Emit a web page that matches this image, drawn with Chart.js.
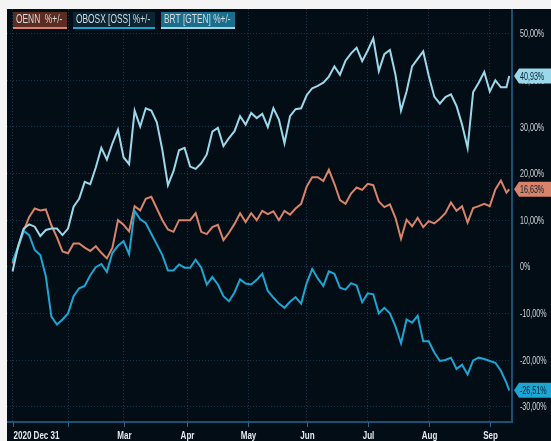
<!DOCTYPE html>
<html>
<head>
<meta charset="utf-8">
<script src="https://cdn.jsdelivr.net/npm/chart.js@4.4.0/dist/chart.umd.min.js"></script>
<style>
  html, body { margin: 0; padding: 0; background: #f4f4f4; }
  #panel { position: absolute; left: 7px; top: 9px; width: 544px; height: 432px; background: #020d15; }
</style>
</head>
<body>
<div id="panel"><canvas id="chart" width="544" height="432"></canvas></div>
<script>
// x axis counts weekdays since 2020-12-31; the series are sampled every second weekday
const sampleDays = [];
for (let d = 2; d <= 180; d += 2) sampleDays.push(d);
sampleDays.push(181);

const seriesNames = ['OENN  %+/-', 'OBOSX [OSS] %+/-', 'BRT [GTEN] %+/-'];

const oenn = [
  0.7, 4.1, 7.7, 10.7, 12.5, 12.1, 12.3, 8.9, 6.3, 3.3,
  2.9, 5.0, 5.0, 4.1, 3.4, 4.4, 3.0, 1.8, 4.1, 10.0,
  9.0, 7.6, 13.0, 12.1, 14.6, 15.0, 12.5, 10.0, 8.0, 7.5,
  10.0, 10.0, 10.0, 11.5, 7.5, 7.0, 8.5, 9.0, 5.7, 7.3,
  9.2, 11.5, 9.6, 11.5, 10.0, 12.0, 11.3, 11.9, 10.0, 12.0,
  11.2, 12.5, 13.5, 17.2, 19.2, 19.2, 18.4, 20.8, 17.8, 14.3,
  13.5, 15.7, 17.0, 16.5, 17.8, 17.5, 14.0, 12.8, 13.4, 10.5,
  6.0, 10.1, 8.7, 10.5, 8.5, 9.8, 9.3, 10.3, 11.5, 13.8,
  12.0, 13.0, 9.5, 12.6, 13.0, 13.5, 13.0, 16.6, 18.5, 15.9,
  16.63
];

const obosx = [
  1.1, 4.3, 7.7, 6.8, 3.6, 2.5, -2.1, -10.7, -12.4, -11.3,
  -10.0, -6.3, -4.6, -4.1, -1.8, -0.1, 0.6, -1.1, 3.0, 4.5,
  5.5, 2.7, 12.0, 10.2, 9.4, 7.1, 4.8, 2.5, -0.8, -0.8,
  0.5, -0.2, -0.2, 1.5, -0.2, -3.8, -2.2, -3.8, -6.3, -7.4,
  -5.5, -2.7, -3.6, -3.8, -2.8, -1.5, -5.2, -6.6, -7.9, -8.8,
  -7.5, -6.5, -7.9, -3.5, -0.5, -2.5, -4.1, -1.0, -1.5, -4.5,
  -4.9, -3.5, -4.0, -7.6, -5.7, -5.9, -10.0, -8.8, -10.0, -12.8,
  -16.4, -11.3, -12.0, -10.5, -16.0, -16.0, -18.4, -20.2, -20.0, -19.5,
  -21.9, -21.0, -23.1, -20.1, -19.5, -19.8, -20.2, -20.6, -22.3, -24.9,
  -26.51
];

const brt = [
  -1.0, 4.4, 8.2, 9.1, 8.6, 6.6, 7.9, 8.2, 8.2, 6.8,
  8.2, 12.9, 14.6, 18.2, 17.7, 21.3, 25.5, 23.0, 26.5, 29.4,
  23.5, 22.0, 33.5, 30.1, 34.0, 33.5, 31.0, 25.0, 17.5, 20.5,
  25.0, 25.5, 21.5, 21.0, 22.2, 24.1, 29.0, 29.8, 25.9, 27.6,
  29.1, 32.3, 30.5, 33.0, 31.9, 32.8, 30.0, 34.0, 31.6, 26.5,
  32.3, 33.8, 34.0, 36.8, 38.3, 38.8, 39.5, 40.8, 43.0, 41.2,
  44.2, 45.8, 47.0, 44.1, 46.4, 49.0, 42.0, 45.6, 46.5, 41.2,
  33.5, 37.6, 43.0, 44.6, 46.2, 41.0, 36.5, 35.0, 36.4, 37.0,
  34.5, 30.5, 25.5, 37.5, 39.5, 41.8, 37.6, 40.0, 38.5, 38.5,
  40.93
];

const monthTicks = [
  { day: 2, label: '2020 Dec 31' },
  { day: 22, label: '' },
  { day: 42, label: 'Mar' },
  { day: 65, label: 'Apr' },
  { day: 87, label: 'May' },
  { day: 108, label: 'Jun' },
  { day: 130, label: 'Jul' },
  { day: 152, label: 'Aug' },
  { day: 174, label: 'Sep' }
];
const yTicks = [-30, -20, -10, 0, 10, 20, 30, 40, 50];

const lineColors = ['#d9836a', '#1ba6d3', '#9ad8ea'];
const legendFills = ['#5c2c20', '#0b2533', '#1a6e8b'];

const FONT = '"Liberation Sans", Arial, sans-serif';

function pct(v) {
  return v === 0 ? '0%' : v.toFixed(2).replace('.', ',') + '%';
}

// the reference uses a very narrow face, so text is squeezed horizontally
function drawText(ctx, text, x, y, align, font, sx) {
  ctx.save();
  ctx.font = font;
  const w = ctx.measureText(text).width * sx;
  const left = align === 'center' ? x - w / 2 : (align === 'right' ? x - w : x);
  ctx.translate(left, y);
  ctx.scale(sx, 1);
  ctx.textAlign = 'left';
  ctx.textBaseline = 'middle';
  ctx.fillText(text, 0, 0);
  ctx.restore();
  return w;
}

function makeSet(values, i) {
  return {
    label: seriesNames[i],
    data: values.map((v, k) => ({ x: sampleDays[k], y: v })),
    borderColor: lineColors[i],
    borderWidth: 2,
    pointRadius: 0,
    tension: 0,
    order: 3 - i
  };
}

const extras = {
  id: 'extras',
  afterDraw(chart) {
    const ctx = chart.ctx;
    const xs = chart.scales.x;
    const ys = chart.scales.y;
    const area = chart.chartArea;
    ctx.save();

    // x tick marks and month labels
    ctx.strokeStyle = '#2a6488';
    ctx.lineWidth = 1;
    ctx.fillStyle = '#e6eaee';
    monthTicks.forEach((t, i) => {
      const px = Math.round(xs.getPixelForValue(t.day)) + 0.5;
      ctx.beginPath();
      ctx.moveTo(px, area.bottom);
      ctx.lineTo(px, area.bottom + 5);
      ctx.stroke();
      drawText(ctx, t.label, px, area.bottom + 13.5, i === 0 ? 'left' : 'center', 'bold 11px ' + FONT, 0.73);
    });

    // y labels
    ctx.fillStyle = '#d2d6da';
    yTicks.forEach((v) => {
      drawText(ctx, pct(v), area.right + 8, ys.getPixelForValue(v) + 0.5, 'left', '11.5px ' + FONT, 0.62);
    });

    // legend boxes
    const legendFont = '12.5px ' + FONT;
    let lx = 6;
    chart.data.datasets.forEach((ds, i) => {
      ctx.font = legendFont;
      const w = Math.ceil(ctx.measureText(ds.label).width * 0.67) + 7;
      ctx.fillStyle = legendFills[i];
      ctx.fillRect(lx, 3, w, 17);
      ctx.fillStyle = lineColors[i];
      ctx.fillRect(lx, 18, w, 2);
      ctx.fillStyle = '#d6dbe0';
      drawText(ctx, ds.label, lx + 3, 11, 'left', legendFont, 0.67);
      lx += w + 6;
    });

    // last value badges on the right axis
    chart.data.datasets.forEach((ds, i) => {
      const last = ds.data[ds.data.length - 1].y;
      const py = ys.getPixelForValue(last);
      const tip = area.right + 2;
      ctx.fillStyle = lineColors[i];
      ctx.beginPath();
      ctx.moveTo(tip, py);
      ctx.lineTo(tip + 5, py - 7.5);
      ctx.lineTo(chart.width, py - 7.5);
      ctx.lineTo(chart.width, py + 7.5);
      ctx.lineTo(tip + 5, py + 7.5);
      ctx.closePath();
      ctx.fill();
      ctx.fillStyle = '#062030';
      drawText(ctx, pct(last), tip + 6, py + 0.5, 'left', '11.5px ' + FONT, 0.62);
    });

    ctx.restore();
  }
};

new Chart(document.getElementById('chart'), {
  type: 'line',
  data: {
    datasets: [makeSet(oenn, 0), makeSet(obosx, 1), makeSet(brt, 2)]
  },
  options: {
    responsive: false,
    animation: false,
    events: [],
    layout: { padding: 0 },
    plugins: { legend: { display: false }, tooltip: { enabled: false } },
    scales: {
      x: {
        type: 'linear',
        min: 0,
        max: 182,
        afterBuildTicks: (s) => { s.ticks = monthTicks.map(t => ({ value: t.day })); },
        afterFit: (s) => { s.height = 19; s.paddingLeft = 0; s.paddingRight = 0; },
        ticks: { display: false },
        grid: { color: '#12384f', lineWidth: 1, drawTicks: false },
        border: { color: '#1d5070', width: 2, dash: [1, 2] }
      },
      y: {
        position: 'right',
        min: -33.3,
        max: 55.3,
        afterBuildTicks: (s) => { s.ticks = yTicks.map(v => ({ value: v })); },
        afterFit: (s) => { s.width = 39; s.paddingTop = 0; s.paddingBottom = 0; },
        ticks: { display: false },
        grid: { color: '#12384f', lineWidth: 1, drawTicks: false },
        border: { color: '#1d5070', width: 2, dash: [1, 2] }
      }
    }
  },
  plugins: [extras]
});
</script>
</body>
</html>
